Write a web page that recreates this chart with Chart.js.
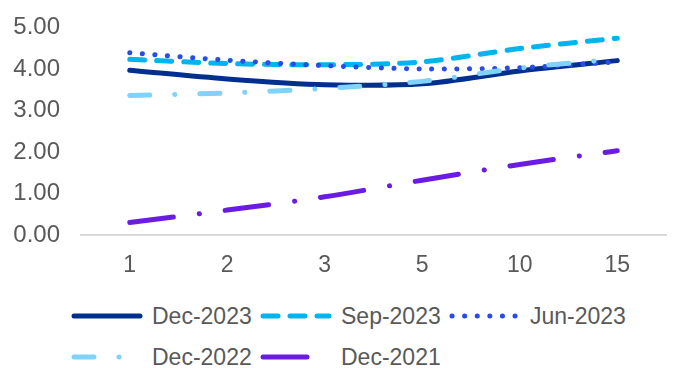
<!DOCTYPE html>
<html>
<head>
<meta charset="utf-8">
<script src="https://cdn.jsdelivr.net/npm/chart.js@4"></script>
<style>
html,body{margin:0;padding:0;background:#fff;}
#wrap{position:relative;width:674px;height:368px;overflow:hidden;font-family:"Liberation Sans",Arial,sans-serif;}
#c{position:absolute;left:0;top:0;}
.lg{position:absolute;height:30px;display:flex;align-items:center;color:#595959;font-size:23px;white-space:nowrap;}
.lg svg{margin-right:9px;}
</style>
</head>
<body>
<div id="wrap">
<canvas id="c" width="674" height="290"></canvas>
</div>
<script>
const categories = ["1","2","3","5","10","15"];
const seriesNames = ["Dec-2023","Sep-2023","Jun-2023","Dec-2022","Dec-2021"];
const dec2023 = [3.97, 3.76, 3.62, 3.64, 3.95, 4.20];
const sep2023 = [4.23, 4.13, 4.10, 4.17, 4.49, 4.74];
const jun2023 = [4.39, 4.21, 4.08, 4.00, 4.03, 4.17];
const dec2022 = [3.36, 3.42, 3.53, 3.70, 4.02, 4.24];
const dec2021 = [0.30, 0.60, 0.92, 1.32, 1.70, 2.03];
const yTicks = [0, 1, 2, 3, 4, 5];

const seriesValues = [dec2023, sep2023, jun2023, dec2022, dec2021];
const colors = ["#002F8E", "#00B4EF", "#2A4BE6", "#7FD2FA", "#6A1CE2"];
const dashes = [[], [15, 12], [0.1, 12.5], [20, 25, 0.1, 25], [44, 26, 0.1, 26]];
const legendPos = [[71, 301], [260, 301], [449, 301], [71, 342], [260, 342]];

const datasets = seriesNames.map((name, i) => ({
  label: name,
  data: seriesValues[i],
  borderColor: colors[i],
  backgroundColor: colors[i],
  borderWidth: 5,
  borderDash: dashes[i],
  borderCapStyle: 'round',
  borderJoinStyle: 'round',
  pointRadius: 0,
  pointHoverRadius: 0,
  tension: 0.3,
  fill: false,
  order: seriesNames.length - 1 - i
}));

const FONT = {family: '"Liberation Sans", Arial, sans-serif', size: 23};

new Chart(document.getElementById('c'), {
  type: 'line',
  data: {labels: categories, datasets: datasets},
  options: {
    responsive: false,
    animation: false,
    devicePixelRatio: 1,
    layout: {padding: {top: 22, right: 8, bottom: 0, left: 0}},
    plugins: {legend: {display: false}, tooltip: {enabled: false}},
    scales: {
      x: {
        offset: true,
        grid: {display: false},
        border: {display: true, color: '#D9D9D9', width: 2},
        ticks: {color: '#595959', font: FONT, padding: 9, maxRotation: 0},
        afterFit: s => { s.height = 55; }
      },
      y: {
        min: 0, max: 5,
        grid: {display: false},
        border: {display: false},
        afterBuildTicks: s => { s.ticks = yTicks.map(v => ({value: v})); },
        ticks: {color: '#595959', font: {family: FONT.family, size: 24}, padding: 13, callback: v => Number(v).toFixed(2)},
        afterFit: s => { s.width = 81; }
      }
    }
  }
});

// HTML legend built from the series definitions
const wrap = document.getElementById('wrap');
seriesNames.forEach((name, i) => {
  const d = document.createElement('div');
  d.className = 'lg';
  d.style.left = legendPos[i][0] + 'px';
  d.style.top = legendPos[i][1] + 'px';
  const dash = dashes[i].length ? dashes[i].join(' ') : 'none';
  d.innerHTML = '<svg width="72" height="10"><line x1="3" y1="5" x2="69" y2="5" stroke="' + colors[i] +
    '" stroke-width="5" stroke-linecap="round" stroke-dasharray="' + dash + '"/></svg><span>' + name + '</span>';
  wrap.appendChild(d);
});
</script>
</body>
</html>
